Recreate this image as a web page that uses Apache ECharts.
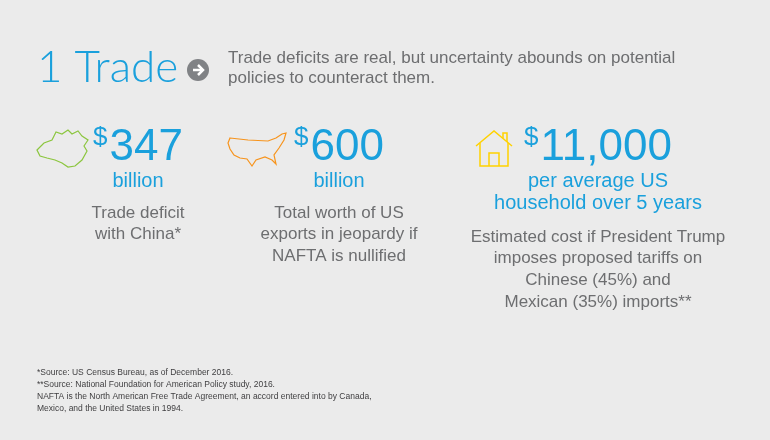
<!DOCTYPE html>
<html><head><meta charset="utf-8">
<script src="https://cdn.jsdelivr.net/npm/echarts@6/dist/echarts.min.js"></script>
<style>html,body{margin:0;padding:0;background:#ebebeb}#chart{width:770px;height:440px}</style>
</head><body><div id="chart"></div>
<script>
var titleNum = '1';
var titleWord = 'Trade';
var subtitle = ['Trade deficits are real, but uncertainty abounds on potential', 'policies to counteract them.'];
var values = ['347', '600', '11,000'];
var units = [['billion'], ['billion'], ['per average US', 'household over 5 years']];
var descriptions = [
    ['Trade deficit', 'with China*'],
    ['Total worth of US', 'exports in jeopardy if', 'NAFTA is nullified'],
    ['Estimated cost if President Trump', 'imposes proposed tariffs on', 'Chinese (45%) and', 'Mexican (35%) imports**']
];
var footnotes = [
    '*Source: US Census Bureau, as of December 2016.',
    '**Source: National Foundation for American Policy study, 2016.',
    'NAFTA is the North American Free Trade Agreement, an accord entered into by Canada,',
    'Mexico, and the United States in 1994.'
];

var BLUE = '#1aa0dc', GRAY = '#6d6e70', FONT = 'Helvetica, Arial, "Liberation Sans", sans-serif';
var centers = [138, 339, 598];
var iconColors = ['#8cc63f', '#f7941d', '#ffd200'];

var chart = echarts.init(document.getElementById('chart'));
var els = [];

// header
els.push({type: 'text', left: 37, top: 46, style: {text: titleNum + ' ' + titleWord, fill: BLUE, font: '300 44px Lato, ' + FONT}});
els.push({type: 'circle', shape: {cx: 198, cy: 70, r: 11}, style: {fill: '#808285'}});
els.push({type: 'polyline', shape: {points: [[193, 70], [203, 70]]}, style: {stroke: '#fff', lineWidth: 2.5}});
els.push({type: 'polyline', shape: {points: [[198, 65], [203, 70], [198, 75]]}, style: {stroke: '#fff', lineWidth: 2.5, fill: null}});
subtitle.forEach(function (s, i) {
    els.push({type: 'text', left: 228, top: 50 + i * 20, style: {text: s, fill: GRAY, font: '17px ' + FONT}});
});

// big numbers
values.forEach(function (v, i) {
    var x = centers[i];
    els.push({type: 'text', x: x, y: 148, style: {
        text: '{s|$}{n|' + v + '}', align: 'center', verticalAlign: 'middle',
        rich: {
            s: {fill: BLUE, font: '26px ' + FONT, padding: [0, 2, 20, 0]},
            n: {fill: BLUE, font: '44px ' + FONT}
        }
    }});
    units[i].forEach(function (u, j) {
        els.push({type: 'text', x: x, y: 181 + j * 22, style: {text: u, fill: BLUE, font: '20px ' + FONT, align: 'center', verticalAlign: 'middle'}});
    });
    var top = units[i].length === 1 ? 213 : 237;
    descriptions[i].forEach(function (d, j) {
        els.push({type: 'text', x: x, y: top + j * 21.7, style: {text: d, fill: GRAY, font: '17px ' + FONT, align: 'center', verticalAlign: 'middle'}});
    });
});

// icons
els.push({type: 'polygon', shape: {points: [[37, 150], [44, 143], [52, 140], [56, 132], [62, 134], [68, 130], [72, 134], [78, 131], [82, 136], [88, 140], [84, 146], [87, 151], [82, 160], [75, 166], [68, 167], [62, 163], [55, 160], [47, 158], [40, 156]]},
    style: {fill: null, stroke: iconColors[0], lineWidth: 1.2}});
els.push({type: 'polygon', shape: {points: [[230, 138], [248, 140], [268, 141], [276, 138], [282, 134], [286, 133], [284, 140], [279, 148], [274, 155], [276, 164], [272, 160], [265, 157], [256, 160], [252, 166], [247, 159], [240, 158], [234, 155], [230, 149], [228, 143]]},
    style: {fill: null, stroke: iconColors[1], lineWidth: 1.2}});
els.push({type: 'polyline', shape: {points: [[476, 146], [494, 131], [512, 146]]}, style: {stroke: iconColors[2], lineWidth: 1.5, fill: null}});
els.push({type: 'polyline', shape: {points: [[480, 143], [480, 166], [508, 166], [508, 143]]}, style: {stroke: iconColors[2], lineWidth: 1.5, fill: null}});
els.push({type: 'polyline', shape: {points: [[489, 166], [489, 153], [499, 153], [499, 166]]}, style: {stroke: iconColors[2], lineWidth: 1.5, fill: null}});
els.push({type: 'polyline', shape: {points: [[503, 138], [503, 133], [507, 133], [507, 142]]}, style: {stroke: iconColors[2], lineWidth: 1.5, fill: null}});

// footnotes
footnotes.forEach(function (f, i) {
    els.push({type: 'text', left: 37, top: 368 + i * 12, style: {text: f, fill: '#414042', font: '8.5px "Liberation Sans Narrow", ' + FONT}});
});

chart.setOption({backgroundColor: '#ebebeb', graphic: {elements: els}});
</script>
</body></html>
